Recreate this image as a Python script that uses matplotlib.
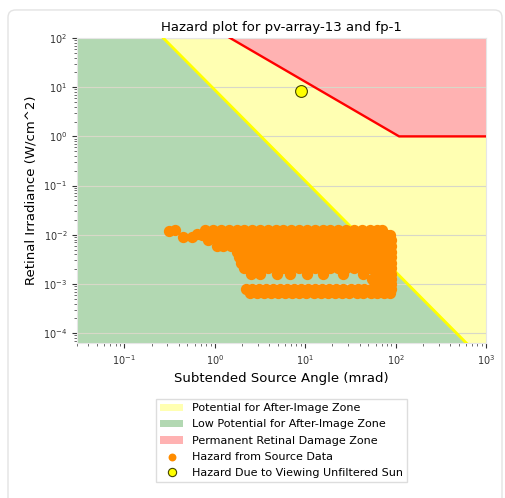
import numpy as np
import matplotlib
matplotlib.use('Agg')
import matplotlib.pyplot as plt
from matplotlib.patches import FancyBboxPatch

title = 'Hazard plot for pv-array-13 and fp-1'
x_label = 'Subtended Source Angle (mrad)'
y_label = 'Retinal Irradiance (W/cm^2)'
zone_labels = ['Potential for After-Image Zone',
               'Low Potential for After-Image Zone',
               'Permanent Retinal Damage Zone']
source_label = 'Hazard from Source Data'
sun_label = 'Hazard Due to Viewing Unfiltered Sun'

# threshold model (E = coef * angle ** exp)
afterimage_coef = 8.85
afterimage_exp = -1.85
burn_coef = 152.0
burn_exp = -1.07
burn_floor = 1.0

# unfiltered sun point
sun_angle = [9.0]
sun_irradiance = [8.5]

# hazard data: left tail
tail_angle = [0.31, 0.36, 0.45, 0.56, 0.64]
tail_irradiance = [0.0117, 0.0123, 0.0090, 0.0090, 0.0105]

# hazard data: rows of points (irradiance, angles)
row_irradiance = [0.0126, 0.0100, 0.0077, 0.0059, 0.0045, 0.0035, 0.0027,
                  0.0021, 0.0016, 0.00125, 0.00100, 0.00080, 0.00066]
row_angles = [
    [0.79, 0.96, 1.17, 1.43, 1.75, 2.13, 2.6, 3.17, 3.87, 4.72, 5.76, 7.0,
     8.6, 10.5, 12.8, 15.6, 19.0, 23.2, 28.3, 34.5, 42.0, 51.5, 62.0, 70.0],
    [0.72, 0.87, 1.06, 1.3, 1.58, 1.93, 2.35, 2.87, 3.5, 4.27, 5.2, 6.35,
     7.75, 9.45, 11.5, 14.1, 17.2, 21.0, 25.6, 31.2, 38.0, 46.4, 56.6, 69.0,
     80.0, 86.0],
    [0.85, 1.06, 1.3, 1.58, 1.93, 2.35, 2.87, 3.5, 4.27, 5.2, 6.35, 7.75,
     9.45, 11.5, 14.1, 17.2, 21.0, 25.6, 31.2, 38.0, 46.4, 56.6, 69.0, 80.0,
     89.0],
    [1.06, 1.22, 1.5, 1.8, 2.13, 2.6, 3.17, 3.87, 4.72, 5.76, 7.0, 8.6, 10.5,
     12.8, 15.6, 19.0, 23.2, 28.3, 34.5, 42.0, 51.5, 62.8, 76.6, 89.0],
    [1.75, 2.13, 2.6, 3.17, 3.87, 4.72, 5.76, 7.0, 8.6, 10.5, 12.8, 15.6,
     19.0, 23.2, 28.3, 34.5, 42.0, 51.5, 62.8, 76.6, 89.0],
    [1.85, 2.25, 2.75, 3.35, 4.1, 5.0, 6.1, 7.4, 9.0, 11.0, 13.4, 16.4, 20.0,
     24.4, 29.8, 36.3, 44.3, 54.0, 65.9, 80.0, 89.0],
    [1.95, 2.35, 2.87, 3.5, 4.27, 5.2, 6.35, 7.75, 9.45, 11.5, 14.1, 17.2,
     21.0, 25.6, 31.2, 38.0, 46.4, 56.6, 69.0, 80.0, 89.0],
    [2.1, 2.6, 3.17, 3.87, 4.72, 5.76, 7.0, 8.6, 10.5, 12.8, 15.6, 19.0,
     23.2, 28.3, 34.5, 42.0, 51.5, 62.8, 76.6, 89.0],
    [2.5, 3.2, 4.9, 6.8, 10.5, 15.8, 26.0, 44.0, 60.0, 75.0, 89.0],
    [55.0, 66.0, 78.0, 89.0],
    [62.0, 74.0, 89.0],
    [2.2, 2.6, 3.1, 3.7, 4.4, 5.3, 6.3, 7.5, 9.0, 10.8, 13.0, 15.5, 18.5,
     22.0, 26.5, 32.0, 38.0, 45.0, 54.0, 64.0, 76.0, 89.0],
    [2.45, 2.95, 3.5, 4.2, 5.0, 6.0, 7.2, 8.6, 10.3, 12.4, 14.9, 17.8, 21.4,
     25.7, 30.8, 37.0, 44.0, 53.0, 63.0, 75.0, 87.0],
]

x_min, x_max = 0.03, 1000
y_min, y_max = 10 ** -4.2, 100

src_x = list(tail_angle)
src_y = list(tail_irradiance)
for irr, angles in zip(row_irradiance, row_angles):
    src_x += angles
    src_y += [irr] * len(angles)

fig = plt.figure(figsize=(5.05, 4.98), dpi=100)

# card border behind everything
card = FancyBboxPatch((8 / 505, -0.05), 494 / 505, 1.04 - 5 / 498,
                      boxstyle='round,pad=0,rounding_size=0.015',
                      transform=fig.transFigure, facecolor='white',
                      edgecolor='#e3e3e3', linewidth=1.0, zorder=-10)
fig.patches.append(card)

ax = fig.add_axes([77 / 505, 1 - 343 / 498, 409 / 505, 305 / 498])
ax.set_xscale('log')
ax.set_yscale('log')

angle = np.logspace(np.log10(x_min), np.log10(x_max), 500)
afterimage = afterimage_coef * angle ** afterimage_exp
burn = np.maximum(burn_coef * angle ** burn_exp, burn_floor)
yel_top = np.minimum(afterimage, burn)

ax.fill_between(angle, yel_top, burn, color='yellow', alpha=0.3,
                linewidth=0, label=zone_labels[0])
ax.fill_between(angle, y_min, np.minimum(yel_top, y_max * 10), color='g',
                alpha=0.3, linewidth=0, label=zone_labels[1])
ax.fill_between(angle, burn, y_max * 10, color='r', alpha=0.3, linewidth=0,
                label=zone_labels[2])
ax.plot(angle, afterimage, color='yellow', linewidth=2, zorder=3)
ax.plot(angle, burn, color='red', linewidth=1.7, zorder=3)

ax.scatter(src_x, src_y, s=66, color='darkorange', linewidths=0, zorder=4,
           label=source_label)
ax.plot(sun_angle, sun_irradiance, 'o', markersize=8.5,
        markerfacecolor='yellow', markeredgecolor='#444400',
        markeredgewidth=0.8, linestyle='none', zorder=5, label=sun_label)

ax.set_xlim(x_min, x_max)
ax.set_ylim(y_min, y_max)
ax.grid(True, axis='y', which='major', color='#d8d8c8', linewidth=0.8)
for s in ax.spines.values():
    s.set_color('#e6e6e6')
ax.tick_params(labelsize=7, colors='#333333')
ax.tick_params(which='minor', colors='#555555')

ax.set_title(title, fontsize=9.5, pad=5)
ax.set_xlabel(x_label, fontsize=9.5, labelpad=4)
ax.set_ylabel(y_label, fontsize=9.5, labelpad=4)

ax.legend(loc='upper center', bbox_to_anchor=(0.5, -0.165), fontsize=8,
          labelspacing=0.55, frameon=True, framealpha=1, edgecolor='#dddddd',
          fancybox=False, markerscale=0.7)

fig.savefig('out.png', dpi=100)
